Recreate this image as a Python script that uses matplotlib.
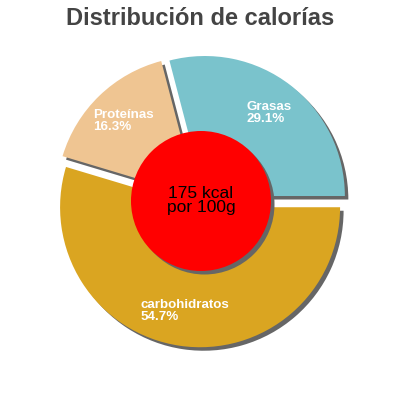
import matplotlib
matplotlib.use("Agg")
import matplotlib.pyplot as plt
from matplotlib.patches import Circle, Shadow
import numpy as np

# Data
categories = ["Grasas", "Proteínas", "carbohidratos"]
percent = [29.1, 16.3, 54.7]
colors = ["#7ac3cc", "#efc592", "#daa521"]
title = "Distribución de calorías"
center_text = "175 kcal\npor 100g"

plt.rcParams['font.family'] = ['Liberation Sans', 'DejaVu Sans']

DPI = 100
fig = plt.figure(figsize=(4, 4), dpi=DPI)
ax = fig.add_axes([0, 0, 1, 1])

R_PX = 140.0
# shadow offset in pixels -> Shadow offset units (data * 72/dpi)
SH_PX = 3.5
sh_off = SH_PX / R_PX * 72 / DPI
explode = [0.045] * len(percent)
shadow_kw = {'ox': sh_off, 'oy': -sh_off, 'facecolor': '#666666',
             'edgecolor': 'none', 'alpha': 1.0}

wedges, texts = ax.pie(percent, colors=colors, startangle=0, counterclock=True,
                       explode=explode, radius=1.0, labels=None,
                       wedgeprops={'linewidth': 0}, shadow=shadow_kw,
                       normalize=True)

# labels
for w, name, p in zip(wedges, categories, percent):
    ang = np.deg2rad((w.theta1 + w.theta2) / 2)
    cx, cy = w.center
    d = 0.75
    ax.text(cx + d * np.cos(ang), cy + d * np.sin(ang), f"{name}\n{p}%",
            ha='center', va='center', multialignment='left',
            color='white', fontsize=9.6, fontweight='bold', linespacing=0.92,
            zorder=3)

# center circle
circ = Circle((0, 0), 0.5, facecolor='#ff0000', edgecolor='none', zorder=5)
ax.add_patch(circ)
sh = Shadow(circ, sh_off, -sh_off, facecolor='#666666', edgecolor='none', alpha=1.0)
sh.set_zorder(4.9)
ax.add_patch(sh)
ax.text(0, 0.005, center_text, ha='center', va='center', fontsize=12.5,
        color='black', zorder=6, linespacing=0.95)

ax.set_xlim(-201 / R_PX, 199 / R_PX)
ax.set_ylim(-199 / R_PX, 201 / R_PX)
ax.set_aspect('equal')
ax.axis('off')

fig.text(0.5, 1 - 25 / 400, title, ha='center', va='baseline', fontsize=17,
         fontweight='bold', color='#444444')

fig.savefig("out.png", dpi=DPI)
